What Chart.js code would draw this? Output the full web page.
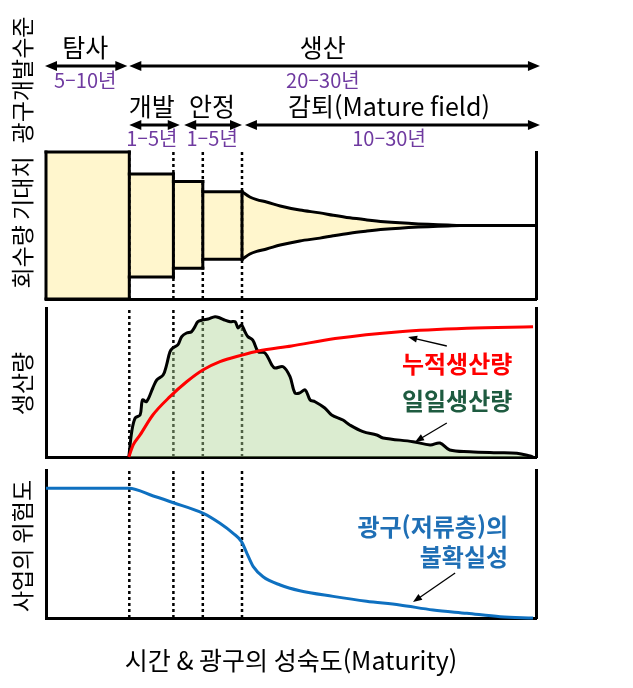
<!DOCTYPE html>
<html lang="ko">
<head>
<meta charset="utf-8">
<title>광구 성숙도에 따른 회수량, 생산량, 위험도</title>
<script src="https://cdn.jsdelivr.net/npm/chart.js@4.4.1/dist/chart.umd.min.js"></script>
<style>
    body { margin: 0; background: #fff; }
    #wrap { position: relative; width: 633px; height: 688px; }
    canvas { position: absolute; left: 0; }
</style>
</head>
<body>
<div id="wrap">
    <canvas id="stage-chart" width="633" height="301" style="top:0"></canvas>
    <canvas id="prod-chart" width="633" height="160" style="top:300px"></canvas>
    <canvas id="risk-chart" width="633" height="228" style="top:460px"></canvas>
</div>
<script>
const FONT = '"Noto Sans CJK KR", "Noto Sans", sans-serif';

// x축: 시간(상대값 0~100), 단계 경계
const phaseEdges = [0, 17, 26, 32, 40];

// 회수량 기대치 - 단계별 박스 (위/아래)
const boxTop = [100, 85, 80, 73];
const boxBottom = [0, 15, 21, 27];

// 감퇴 구간 - 깔때기 (중심 기준 반폭)
const funnelCenter = 50;
const funnelX = [40, 41.6, 43, 45, 47.8, 51.8, 55.9, 58.6, 62, 65.5, 69, 72.2, 76, 79, 82, 84.5, 100];
const funnelHalf = [23, 19.4, 17.6, 16, 13.3, 10.5, 8.6, 7, 5.2, 3.8, 2.6, 1.8, 1.1, 0.7, 0.3, 0, 0];

// 일일생산량
const dailyX = [16.9, 17.5, 18.2, 19.2, 19.7, 20.5, 21.8, 22.6, 23.9, 24.6, 25.3, 25.9, 26.9, 27.7, 28.7, 29.7, 30.4, 31.0, 32.0, 33.1, 34.5, 35.5, 36.5, 37.6, 38.6, 39.2, 39.9, 40.6, 41.2, 42.2, 43.3, 44.7, 46.1, 46.7, 48.4, 49.8, 50.8, 51.8, 52.9, 53.9, 54.9, 56.9, 58.3, 60.6, 62.0, 64.7, 67.5, 68.8, 74.9, 78.4, 80.4, 82.4, 86.5, 92.0, 96.1, 98.8, 99.4];
const dailyY = [0, 17, 26.2, 28.2, 38.3, 37.1, 46.3, 51.7, 55, 61.7, 70.7, 73.2, 75.2, 80.8, 83.2, 84.1, 87.5, 90.8, 92, 92.6, 94.2, 93.3, 91.9, 90.8, 90.8, 86.6, 88.6, 84.1, 80.8, 78.5, 70.7, 69.8, 61.7, 59.7, 60.6, 53.9, 43, 43, 45, 38.3, 37.1, 32.9, 28.2, 24.8, 21.5, 17, 14.8, 12.8, 10.3, 8.1, 9.4, 4.7, 3.6, 2.9, 2.5, 0.7, 0];

// 누적생산량
const cumX = [16.9, 17.8, 19.2, 21.8, 25.3, 28.7, 32.0, 35.5, 39.9, 43.3, 50.1, 59.0, 72.2, 85.9, 99.4];
const cumY = [0, 8.1, 14.8, 28.2, 40.5, 50.5, 58.4, 64.0, 68.3, 71.1, 74.5, 79.5, 84.1, 86.4, 87.4];

// 사업의 위험도 (광구 불확실성)
const riskX = [0, 16.9, 21.9, 26, 32.1, 35.5, 38.2, 39.9, 41, 42.3, 44.3, 47.8, 51.8, 58.6, 65.4, 72.2, 79, 85.9, 92.7, 99.4];
const riskY = [87.6, 87.6, 82.4, 77.9, 70.7, 64, 57.2, 51.6, 43.7, 34.7, 27.9, 22.3, 18.4, 14.6, 11.3, 8.8, 5.4, 3.2, 0.9, 0];

// 상단 단계 화살표
const stageNames = ['탐사', '생산'];
const stageYears = ['5–10년', '20–30년'];
const stageFrom = [-0.2, 17];
const stageTo = [16.6, 100.8];
const stageLabelX = [8, 56.5];

const subNames = ['개발', '안정', '감퇴(Mature field)'];
const subYears = ['1–5년', '1–5년', '10–30년'];
const subFrom = [17, 28.2, 40.6];
const subTo = [27.3, 40, 100.8];
const subLabelX = [21.6, 33.9, 70];

const axisTitles = ['광구개발수준', '회수량 기대치', '생산량', '사업의 위험도'];
const xTitle = '시간 & 광구의 성숙도(Maturity)';

const YELLOW = '#FFF6CD';
const GREEN_FILL = 'rgba(176, 212, 150, 0.45)';
const PURPLE = '#6F3AA0';

function pts(xs, ys) {
    return xs.map((x, i) => ({x: x, y: ys[i]}));
}

function solid(data) {
    return {data: data, borderColor: '#000', borderWidth: 3, borderCapStyle: 'square', pointRadius: 0, fill: false, tension: 0, clip: false};
}

function dotted(x) {
    return {data: pts([x, x], [0, 100]), borderColor: '#000', borderWidth: 2.5, borderDash: [3, 3], pointRadius: 0, fill: false, clip: false};
}

function scales() {
    const noTicks = {display: false};
    const grid = {display: false, drawTicks: false};
    const border = {display: true, color: '#000', width: 3};
    return {
        x: {type: 'linear', min: 0, max: 100, ticks: noTicks, grid: grid, border: border},
        y: {type: 'linear', min: 0, max: 100, position: 'left', ticks: noTicks, grid: grid, border: border},
        yR: {type: 'linear', min: 0, max: 100, position: 'right', ticks: noTicks, grid: grid, border: border}
    };
}

function makeChart(id, datasets, padding, plugin, fillTime) {
    return new Chart(document.getElementById(id), {
        type: 'line',
        data: {datasets: datasets},
        options: {
            responsive: false,
            animation: false,
            layout: {padding: padding},
            scales: scales(),
            plugins: {
                legend: {display: false},
                tooltip: {enabled: false},
                filler: {drawTime: fillTime || 'beforeDatasetDraw'}
            }
        },
        plugins: [plugin]
    });
}

// 화살표 그리기
function drawArrow(ctx, x1, y1, x2, y2, width, headLen, headHalf, both) {
    const ang = Math.atan2(y2 - y1, x2 - x1);
    const cos = Math.cos(ang), sin = Math.sin(ang);
    const sx = both ? x1 + cos * headLen * 0.8 : x1;
    const sy = both ? y1 + sin * headLen * 0.8 : y1;
    ctx.save();
    ctx.strokeStyle = '#000';
    ctx.fillStyle = '#000';
    ctx.lineWidth = width;
    ctx.beginPath();
    ctx.moveTo(sx, sy);
    ctx.lineTo(x2 - cos * headLen * 0.8, y2 - sin * headLen * 0.8);
    ctx.stroke();
    const head = (hx, hy, a) => {
        const c = Math.cos(a), s = Math.sin(a);
        ctx.beginPath();
        ctx.moveTo(hx, hy);
        ctx.lineTo(hx - c * headLen - s * headHalf, hy - s * headLen + c * headHalf);
        ctx.lineTo(hx - c * headLen + s * headHalf, hy - s * headLen - c * headHalf);
        ctx.closePath();
        ctx.fill();
    };
    head(x2, y2, ang);
    if (both) head(x1, y1, ang + Math.PI);
    ctx.restore();
}

function text(ctx, str, x, y, font, color, align) {
    ctx.save();
    ctx.font = font;
    ctx.fillStyle = color;
    ctx.textAlign = align || 'center';
    ctx.textBaseline = 'middle';
    ctx.fillText(str, x, y);
    ctx.restore();
}

function vText(ctx, str, x, y) {
    ctx.save();
    ctx.translate(x, y);
    ctx.rotate(-Math.PI / 2);
    text(ctx, str, 0, 0, '23px ' + FONT, '#000');
    ctx.restore();
}

// ----- 1. 광구개발수준 / 회수량 기대치 -----
const stageSets = [];
phaseEdges.forEach((x, i) => {
    const b = Math.max(i - 1, 0);
    stageSets.push(solid(pts([x, x], [boxBottom[b], boxTop[b]])));
});
boxTop.forEach((top, i) => {
    const xs = [phaseEdges[i], phaseEdges[i + 1]];
    stageSets.push(Object.assign(solid(pts(xs, [top, top])), {fill: '+1', backgroundColor: YELLOW}));
    stageSets.push(solid(pts(xs, [boxBottom[i], boxBottom[i]])));
});
stageSets.push(Object.assign(solid(pts(funnelX, funnelHalf.map(h => funnelCenter + h))),
    {fill: '+1', backgroundColor: YELLOW, cubicInterpolationMode: 'monotone'}));
stageSets.push(Object.assign(solid(pts(funnelX, funnelHalf.map(h => funnelCenter - h))),
    {cubicInterpolationMode: 'monotone'}));
phaseEdges.slice(1).forEach(x => stageSets.push(dotted(x)));

const stagePlugin = {
    id: 'stageHeader',
    afterDraw(chart) {
        const ctx = chart.ctx;
        const xs = chart.scales.x;
        const area = chart.chartArea;
        vText(ctx, axisTitles[0], 22, 80);
        vText(ctx, axisTitles[1], 22, (area.top + area.bottom) / 2 - 3);

        stageNames.forEach((name, i) => {
            drawArrow(ctx, xs.getPixelForValue(stageFrom[i]), 66, xs.getPixelForValue(stageTo[i]), 66, 3, 12, 5, true);
            text(ctx, name, xs.getPixelForValue(stageLabelX[i]), 47, '25px ' + FONT, '#000');
            text(ctx, stageYears[i], xs.getPixelForValue(stageLabelX[i]), 80, '20px ' + FONT, PURPLE);
        });
        subNames.forEach((name, i) => {
            drawArrow(ctx, xs.getPixelForValue(subFrom[i]), 125, xs.getPixelForValue(subTo[i]), 125, 3, 12, 5, true);
            text(ctx, name, xs.getPixelForValue(subLabelX[i]), 106, '25px ' + FONT, '#000');
            text(ctx, subYears[i], xs.getPixelForValue(subLabelX[i]), 138, '20px ' + FONT, PURPLE);
        });
    }
};

makeChart('stage-chart', stageSets, {top: 152, bottom: 2, left: 46, right: 97}, stagePlugin, 'beforeDatasetsDraw');

// ----- 2. 생산량 -----
const prodSets = [
    {data: pts(cumX, cumY), borderColor: '#FF0000', borderWidth: 3, pointRadius: 0, fill: false, clip: false, cubicInterpolationMode: 'monotone'},
    {data: pts(dailyX, dailyY), borderColor: '#000', borderWidth: 3, pointRadius: 0, fill: 'origin', clip: false, backgroundColor: GREEN_FILL, tension: 0.35}
];
phaseEdges.slice(1).forEach(x => prodSets.push(dotted(x)));

const prodPlugin = {
    id: 'prodNotes',
    afterDraw(chart) {
        const ctx = chart.ctx;
        const xs = chart.scales.x, ys = chart.scales.y;
        const area = chart.chartArea;
        vText(ctx, axisTitles[2], 22, (area.top + area.bottom) / 2 + 1);
        const px = v => xs.getPixelForValue(v), py = v => ys.getPixelForValue(v);
        text(ctx, '누적생산량', px(83.9), py(62.4), 'bold 24px ' + FONT, '#FF0000');
        text(ctx, '일일생산량', px(83.9), py(37.6), 'bold 24px ' + FONT, '#1E5B40');
        drawArrow(ctx, px(81.8), py(74.5), px(73.9), py(80.5), 1.3, 9, 3.5, false);
        drawArrow(ctx, px(81.8), py(22.8), px(75.3), py(10.1), 1.3, 9, 3.5, false);
    }
};

makeChart('prod-chart', prodSets, {top: 8, bottom: 3, left: 46, right: 97}, prodPlugin);

// ----- 3. 사업의 위험도 -----
const riskSets = [
    {data: pts(riskX, riskY), borderColor: '#0E70C0', borderWidth: 3, pointRadius: 0, fill: false, clip: false, cubicInterpolationMode: 'monotone'}
];
phaseEdges.slice(1).forEach(x => riskSets.push(dotted(x)));

const riskPlugin = {
    id: 'riskNotes',
    afterDraw(chart) {
        const ctx = chart.ctx;
        const xs = chart.scales.x, ys = chart.scales.y;
        const area = chart.chartArea;
        vText(ctx, axisTitles[3], 22, (area.top + area.bottom) / 2 + 2);
        const px = v => xs.getPixelForValue(v), py = v => ys.getPixelForValue(v);
        text(ctx, '광구(저류층)의', px(94.3), py(61.5), 'bold 24px ' + FONT, '#1F6FB5', 'right');
        text(ctx, '불확실성', px(94.3), py(41.2), 'bold 24px ' + FONT, '#1F6FB5', 'right');
        drawArrow(ctx, px(83.5), py(30.4), px(74.9), py(10.8), 1.3, 9, 3.5, false);
        text(ctx, xTitle, (area.left + area.right) / 2, area.bottom + 42, '25px ' + FONT, '#000');
    }
};

makeChart('risk-chart', riskSets, {top: 10, bottom: 70, left: 46, right: 97}, riskPlugin);
</script>
</body>
</html>
